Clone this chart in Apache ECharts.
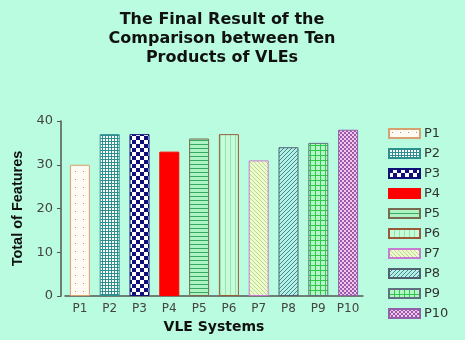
<!DOCTYPE html>
<html>
<head>
<meta charset="utf-8">
<script src="https://cdn.jsdelivr.net/npm/echarts@6/dist/echarts.min.js"></script>
<style>
  html, body { margin: 0; padding: 0; background: #b9fce0; }
  #chart { width: 465px; height: 340px; }
</style>
</head>
<body>
<div id="chart"></div>
<script>
// data
var categories = ['P1', 'P2', 'P3', 'P4', 'P5', 'P6', 'P7', 'P8', 'P9', 'P10'];
var features = [30, 37, 37, 33, 36, 37, 31, 34, 35, 38];
var yTicks = [0, 10, 20, 30, 40];

var FONT = 'DejaVu Sans, Verdana, sans-serif';

// small tiles for the hatched fills
function tile(w, h, draw) {
  var c = document.createElement('canvas');
  c.width = w;
  c.height = h;
  draw(c.getContext('2d'));
  return { image: c, repeat: 'repeat' };
}

var fills = [
  // P1 dots
  tile(8, 8, function (g) {
    g.fillStyle = '#fffaf2'; g.fillRect(0, 0, 8, 8);
    g.fillStyle = '#9a9a9a'; g.fillRect(3, 3, 1, 1);
  }),
  // P2 fine grid
  tile(3, 3, function (g) {
    g.fillStyle = '#2e8f8f'; g.fillRect(0, 0, 3, 3);
    g.fillStyle = '#ffffff'; g.fillRect(1, 1, 2, 2);
  }),
  // P3 checker
  tile(8, 8, function (g) {
    g.fillStyle = '#ffffff'; g.fillRect(0, 0, 8, 8);
    g.fillStyle = '#10107a'; g.fillRect(0, 0, 4, 4); g.fillRect(4, 4, 4, 4);
  }),
  '#ff0000',
  // P5 horizontal lines
  tile(4, 4, function (g) {
    g.fillStyle = '#aef3c4'; g.fillRect(0, 0, 4, 4);
    g.fillStyle = '#3aa860'; g.fillRect(0, 0, 4, 1);
  }),
  // P6 vertical lines
  tile(5, 4, function (g) {
    g.fillStyle = '#c8fbdc'; g.fillRect(0, 0, 5, 4);
    g.fillStyle = '#8ee8a8'; g.fillRect(0, 0, 1, 4);
  }),
  // P7 diagonal
  tile(4, 4, function (g) {
    g.fillStyle = '#eefbd0'; g.fillRect(0, 0, 4, 4);
    g.fillStyle = '#b9d98a';
    for (var i = 0; i < 4; i++) g.fillRect(i, i, 1, 1);
  }),
  // P8 diagonal other way
  tile(4, 4, function (g) {
    g.fillStyle = '#b8f0e0'; g.fillRect(0, 0, 4, 4);
    g.fillStyle = '#3a8aa0';
    for (var i = 0; i < 4; i++) g.fillRect(3 - i, i, 1, 1);
  }),
  // P9 green grid
  tile(5, 5, function (g) {
    g.fillStyle = '#b6f5c8'; g.fillRect(0, 0, 5, 5);
    g.fillStyle = '#2ec84a'; g.fillRect(0, 0, 5, 1); g.fillRect(0, 0, 1, 5);
  }),
  // P10 purple checker
  tile(4, 4, function (g) {
    g.fillStyle = '#f0c8ee'; g.fillRect(0, 0, 4, 4);
    g.fillStyle = '#9a5aa8'; g.fillRect(0, 0, 2, 2); g.fillRect(2, 2, 2, 2);
  })
];
var borders = ['#d8a070', '#2e8f8f', '#10107a', '#ff0000', '#7a6a50',
  '#9a5a3a', '#c87ad0', '#506070', '#607080', '#9060a8'];

var series = categories.map(function (name, i) {
  var data = categories.map(function (c, j) { return j === i ? features[i] : '-'; });
  return {
    name: name,
    type: 'bar',
    data: data,
    barWidth: 20,
    barGap: '-100%',
    itemStyle: { color: fills[i], borderColor: borders[i], borderWidth: 1 }
  };
});

var chart = echarts.init(document.getElementById('chart'));
chart.setOption({
  backgroundColor: '#b9fce0',
  animation: false,
  title: {
    text: 'The Final Result of the\nComparison between Ten\nProducts of VLEs',
    left: 217,
    top: 5,
    textAlign: 'center',
    textStyle: {
      fontFamily: FONT,
      fontSize: 16,
      fontWeight: 'bold',
      color: '#111',
      lineHeight: 19
    }
  },
  legend: {
    orient: 'vertical',
    left: 388,
    top: 127,
    padding: 0,
    icon: 'rect',
    itemWidth: 31,
    itemHeight: 9,
    itemGap: 7,
    data: categories,
    textStyle: { fontFamily: FONT, fontSize: 13, lineHeight: 13, color: '#333', padding: [0, 0, 0, -1] }
  },
  grid: { left: 65, right: 102, top: 121, bottom: 44 },
  xAxis: {
    type: 'category',
    data: categories,
    name: 'VLE Systems',
    nameLocation: 'middle',
    nameGap: 23,
    nameTextStyle: { fontFamily: FONT, fontSize: 14, fontWeight: 'bold', color: '#111' },
    axisLine: { lineStyle: { color: '#555', width: 1.5 } },
    axisTick: { show: false },
    axisLabel: { interval: 0, fontFamily: FONT, fontSize: 12, color: '#444', margin: 7 }
  },
  yAxis: {
    type: 'value',
    min: yTicks[0],
    max: yTicks[yTicks.length - 1],
    interval: 10,
    offset: 4,
    name: 'Total of Features',
    nameLocation: 'middle',
    nameGap: 34,
    nameTextStyle: { fontFamily: 'Liberation Sans, Arial, sans-serif', fontSize: 14.5, fontWeight: 'bold', color: '#111' },
    splitLine: { show: false },
    axisLine: { show: true, lineStyle: { color: '#555', width: 1.5 } },
    axisTick: { show: true, length: 4, lineStyle: { color: '#555' } },
    axisLabel: { fontFamily: FONT, fontSize: 13, color: '#444', margin: 8 }
  },
  series: series
});
</script>
</body>
</html>
